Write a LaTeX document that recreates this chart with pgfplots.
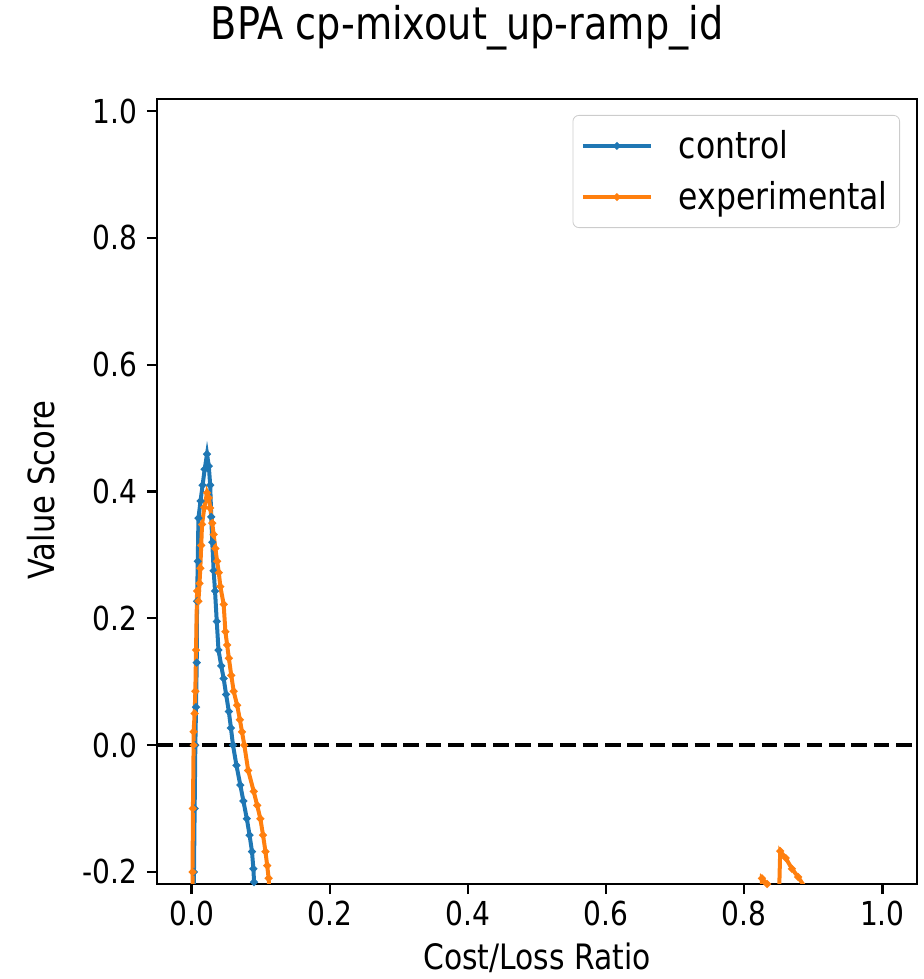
\documentclass[border=0pt]{standalone}
\usepackage{pgfplots}
\pgfplotsset{compat=1.18}
\usepackage{fontspec}
\setmainfont[FakeStretch=0.85]{DejaVu Sans}
\definecolor{mplblue}{HTML}{1F77B4}
\definecolor{mplorange}{HTML}{FF7F0E}
\begin{document}
\begin{tikzpicture}
\path[use as bounding box] (-78.5pt,-47.5pt) rectangle (383.5pt,442pt);
\begin{axis}[
    scale only axis,
    width=380pt,
    height=392.5pt,
    xmin=-0.05, xmax=1.05,
    ymin=-0.219, ymax=1.019,
    xtick={0,0.2,0.4,0.6,0.8,1.0},
    ytick={-0.2,0,0.2,0.4,0.6,0.8,1.0},
    tick pos=left,
    tick align=outside,
    major tick length=5pt,
    axis line style={line width=1.1pt},
    every tick/.style={black,line width=1.1pt},
    /pgf/number format/assume math mode=true,
    /pgf/number format/.cd, fixed, fixed zerofill, precision=1, /pgfplots/.cd,
    tick label style={font=\fontsize{16.5}{19}\selectfont},
    yticklabel style={xshift=-1.5pt},
    legend style={at={(rel axis cs:1,1)}, anchor=north east,
        xshift=-8.5pt, yshift=-8pt, draw=black!20, rounded corners=3pt,
        font=\fontsize{18.5}{21}\selectfont, row sep=6pt,
        inner xsep=4pt, inner ysep=5.5pt},
    legend cell align=left,
    legend image code/.code={
        \path[draw=none,fill=none] (-1pt,0pt) (46pt,0pt);
        \draw[mark repeat=2,mark phase=2,mark size=0.6pt,#1]
        plot coordinates {(0pt,0pt) (17pt,0pt) (34pt,0pt)};},
]
% control
\addplot[mplblue, line width=2pt, mark=*, mark size=0.7pt] coordinates {
    (0.0030,-0.40) (0.0035,-0.20) (0.0045,-0.10) (0.0055,0.000)
    (0.0065,0.060) (0.0075,0.130) (0.0080,0.227) (0.0090,0.290)
    (0.0100,0.358) (0.0130,0.385) (0.0160,0.410) (0.0190,0.435)
    (0.0224,0.459) (0.0250,0.440) (0.0270,0.410) (0.0285,0.360)
    (0.0300,0.320) (0.0320,0.275) (0.0340,0.243) (0.0365,0.195)
    (0.0390,0.150) (0.0430,0.125) (0.0465,0.105) (0.0500,0.080)
    (0.0540,0.053) (0.0570,0.027) (0.0600,0.000) (0.0650,-0.032)
    (0.0706,-0.063) (0.0750,-0.088) (0.0800,-0.116) (0.0840,-0.142)
    (0.0875,-0.168) (0.0895,-0.195) (0.0905,-0.216) (0.0930,-0.30)
    (0.0960,-0.40)
};
\addlegendentry{control}
% experimental
\addplot[mplorange, line width=2pt, mark=*, mark size=0.7pt] coordinates {
    (0.0010,-0.40) (0.0015,-0.20) (0.0020,-0.10) (0.0030,0.000)
    (0.0030,0.021) (0.0045,0.050) (0.0055,0.085) (0.0065,0.150)
    (0.0080,0.243) (0.0100,0.227) (0.0115,0.255) (0.0127,0.279)
    (0.0140,0.315) (0.0152,0.348) (0.0185,0.375) (0.0224,0.398)
    (0.0250,0.390) (0.0270,0.374) (0.0300,0.350) (0.0320,0.332)
    (0.0345,0.310) (0.0370,0.290) (0.0395,0.272) (0.0417,0.250)
    (0.0465,0.222) (0.0490,0.179) (0.0515,0.158) (0.0540,0.137)
    (0.0575,0.110) (0.0610,0.085) (0.0660,0.063) (0.0700,0.040)
    (0.0730,0.021) (0.0764,0.000) (0.0820,-0.040) (0.0900,-0.073)
    (0.0950,-0.095) (0.0996,-0.116) (0.1035,-0.142) (0.1070,-0.168)
    (0.1095,-0.190) (0.1116,-0.210) (0.1150,-0.30) (0.1300,-0.45)
    (0.8200,-0.45) (0.8250,-0.30) (0.8256,-0.210) (0.8330,-0.219)
    (0.8400,-0.228) (0.8450,-0.30) (0.8495,-0.35) (0.8500,-0.25)
    (0.8520,-0.167) (0.8600,-0.178) (0.8690,-0.195) (0.8780,-0.208)
    (0.8860,-0.221) (0.8950,-0.30) (0.9000,-0.40)
};
\addlegendentry{experimental}
\addplot[black, line width=2pt, dash pattern=on 7.8pt off 3.4pt, forget plot]
    coordinates {(-0.05,0) (1.05,0)};
\end{axis}
\node[font=\fontsize{22.5}{26}\selectfont] at (155pt,428pt) {BPA cp-mixout\_up-ramp\_id};
\node[font=\fontsize{17.5}{21}\selectfont] at (190pt,-37pt) {Cost/Loss Ratio};
\node[font=\fontsize{18}{21}\selectfont, rotate=90] at (-58pt,197pt) {Value Score};
\end{tikzpicture}
\end{document}
